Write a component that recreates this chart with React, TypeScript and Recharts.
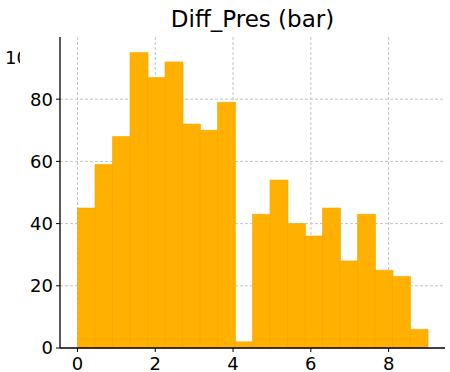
import { BarChart, Bar, XAxis, YAxis, CartesianGrid } from "recharts";

// histogram bins (width 0.45, from 0 to 9)
const binLabels = [
  "0.00", "0.45", "0.90", "1.35", "1.80", "2.25", "2.70", "3.15", "3.60", "4.05",
  "4.50", "4.95", "5.40", "5.85", "6.30", "6.75", "7.20", "7.65", "8.10", "8.55",
];
const binCenters = [
  0.225, 0.675, 1.125, 1.575, 2.025, 2.475, 2.925, 3.375, 3.825, 4.275,
  4.725, 5.175, 5.625, 6.075, 6.525, 6.975, 7.425, 7.875, 8.325, 8.775,
];
const counts = [45, 59, 68, 95, 87, 92, 72, 70, 79, 2, 43, 54, 40, 36, 45, 28, 43, 25, 23, 6];
const xTicks = [0, 2, 4, 6, 8];
const yTicks = [0, 20, 40, 60, 80];

const data = binLabels.map((bin, i) => ({ bin, mid: binCenters[i], count: counts[i] }));

const tickStyle = { fill: "#000", fontSize: 18, fontFamily: "DejaVu Sans" };

export default function App() {
  return (
    <div
      style={{
        position: "absolute",
        left: 0,
        top: 0,
        width: 450,
        height: 372,
        background: "#fff",
        fontFamily: "DejaVu Sans",
        overflow: "hidden",
      }}
    >
      <BarChart
        width={450}
        height={372}
        data={data}
        margin={{ top: 37, right: 5, bottom: 0, left: 0 }}
        barCategoryGap={0}
        barGap={0}
      >
        <CartesianGrid
          xAxisId="num"
          strokeDasharray="3 2"
          stroke="#c4c4c4"
          verticalValues={xTicks}
          horizontalValues={[20, 40, 60, 80]}
        />
        <XAxis
          xAxisId="num"
          dataKey="mid"
          type="number"
          domain={[-0.45, 9.45]}
          ticks={xTicks}
          allowDataOverflow
          height={24}
          tickSize={4}
          tickMargin={5}
          tick={tickStyle}
          axisLine={{ stroke: "#000", strokeWidth: 1.3 }}
          tickLine={{ stroke: "#000" }}
        />
        <XAxis dataKey="bin" hide height={0} padding={{ left: 17.5, right: 17.5 }} />
        <YAxis
          domain={[0, 100]}
          ticks={yTicks}
          width={60}
          tickSize={4}
          tickMargin={3}
          tick={tickStyle}
          axisLine={{ stroke: "#000", strokeWidth: 1.3 }}
          tickLine={{ stroke: "#000" }}
        />
        <Bar dataKey="count" fill="#FFB000" stroke="#F5A800" strokeWidth={0.6} isAnimationActive={false} />
      </BarChart>
      <div
        style={{
          position: "absolute",
          left: 0,
          top: 6,
          width: 505,
          textAlign: "center",
          fontSize: 23,
          color: "#000",
          whiteSpace: "nowrap",
        }}
      >
        Diff_Pres (bar)
      </div>
      <div
        style={{
          position: "absolute",
          left: 5,
          top: 47,
          width: 15,
          overflow: "hidden",
          fontSize: 18,
          whiteSpace: "nowrap",
        }}
      >
        100
      </div>
    </div>
  );
}
